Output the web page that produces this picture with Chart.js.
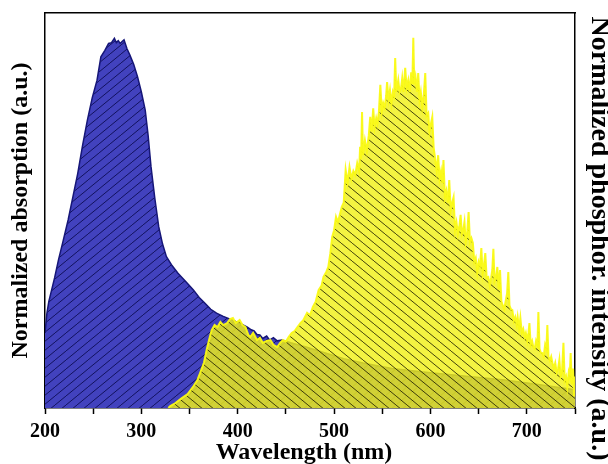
<!DOCTYPE html>
<html>
<head>
<meta charset="utf-8">
<script src="https://cdn.jsdelivr.net/npm/chart.js@4.4.1/dist/chart.umd.min.js"></script>
<style>
  html, body { margin: 0; padding: 0; background: #ffffff; }
  canvas { display: block; }
</style>
</head>
<body>
<canvas id="chart" width="608" height="464"></canvas>
<script>
// absorption spectrum (blue), normalised to plot height
const absWavelengths = [200, 202, 204, 210, 214, 219, 224, 229, 234, 239, 244, 249, 254, 258, 262, 266, 269, 272, 274, 276, 278, 280, 282, 285, 288, 292, 296, 300, 304, 307, 310, 314, 318, 322, 326, 332, 338, 346, 354, 360, 366, 372, 378, 385, 394, 402, 410, 414, 417, 420, 423, 426, 430, 433, 437, 441, 446, 455, 470, 490, 510, 530, 560, 600, 640, 677, 710, 750];
const absValues = [0.19, 0.24, 0.27, 0.33, 0.375, 0.425, 0.476, 0.535, 0.594, 0.665, 0.729, 0.785, 0.83, 0.889, 0.905, 0.923, 0.925, 0.936, 0.925, 0.93, 0.923, 0.928, 0.932, 0.91, 0.894, 0.87, 0.839, 0.8, 0.754, 0.69, 0.611, 0.53, 0.459, 0.415, 0.383, 0.36, 0.341, 0.32, 0.299, 0.28, 0.265, 0.25, 0.24, 0.232, 0.223, 0.215, 0.205, 0.198, 0.195, 0.186, 0.185, 0.176, 0.182, 0.172, 0.178, 0.17, 0.172, 0.165, 0.155, 0.14, 0.125, 0.114, 0.1, 0.089, 0.08, 0.071, 0.06, 0.046];

// phosphorescence spectrum (yellow), noisy
const emWavelengths = [
  328, 330, 335, 342, 348, 354, 358, 362, 365, 368, 371, 373, 376, 379, 382, 385, 389, 392, 395, 398,
  402, 405, 408, 411, 413, 416, 420, 423, 426, 430, 434, 437, 441, 444, 447, 450, 453, 456, 459, 462,
  465, 468, 472, 475, 478, 481, 484, 487, 489, 492, 494, 496, 498, 500, 502, 504, 506, 508, 510, 512,
  514, 516, 518, 520, 522, 524, 526, 527, 528, 529, 530, 532, 534, 536, 537.5, 539, 540.6, 542, 543.7, 545,
  546.5, 548, 549.5, 551, 552.5, 554, 555, 556.5, 558, 559.5, 561, 562.3, 563.4, 564.6, 566.6, 568, 569.5, 570.7, 572, 573.8,
  575.3, 577, 578.5, 580, 581.2, 582.2, 583.2, 584.5, 586, 587.3, 588.7, 590, 591.5, 593, 594.6, 596, 597.7, 599, 600.5, 601.9,
  603.3, 605, 606.5, 608, 609.5, 611, 612.3, 613.5, 615, 616.5, 618, 619.5, 621, 622.5, 624, 625.5, 627, 628.5, 630, 631.3,
  632.6, 634, 635.3, 636.6, 638, 639.6, 641, 642.5, 644, 645.5, 647, 648.6, 650, 651.4, 652.8, 654.2, 655.5, 656.9, 658.3, 660,
  661.5, 663, 664.2, 665.3, 666.5, 668, 669.4, 670.8, 672.2, 673.6, 675, 676.5, 678, 679.5, 680.8, 682, 683.5, 685, 686.5, 688,
  689.5, 690.5, 692, 693.3, 694.8, 696.3, 697.8, 699, 700.5, 701.7, 702.7, 704, 705.5, 706.8, 708.2, 709.6, 711, 712, 713.2, 714.6,
  716, 717.5, 719, 720.3, 721.3, 722.5, 724, 725.3, 726.6, 728, 729.5, 731, 732.5, 733.8, 735, 736.5, 738, 739.3, 740.7, 742,
  743.5, 744.5, 745.5, 746.7, 748, 749, 750,
];
const emValues = [
  0, 0.005, 0.012, 0.025, 0.035, 0.055, 0.07, 0.095, 0.115, 0.15, 0.18, 0.197, 0.21, 0.205, 0.218, 0.21, 0.215, 0.225, 0.228, 0.215,
  0.223, 0.21, 0.205, 0.185, 0.18, 0.19, 0.172, 0.178, 0.165, 0.17, 0.172, 0.16, 0.154, 0.165, 0.172, 0.168, 0.18, 0.19, 0.195, 0.205,
  0.215, 0.222, 0.241, 0.235, 0.256, 0.27, 0.299, 0.31, 0.332, 0.345, 0.357, 0.39, 0.433, 0.45, 0.484, 0.47, 0.49, 0.509, 0.52, 0.603,
  0.57, 0.61, 0.58, 0.6, 0.59, 0.62, 0.6, 0.661, 0.63, 0.749, 0.64, 0.678, 0.65, 0.69, 0.737, 0.7, 0.759, 0.71, 0.734, 0.72,
  0.75, 0.818, 0.75, 0.772, 0.76, 0.79, 0.825, 0.78, 0.805, 0.77, 0.8, 0.79, 0.886, 0.8, 0.83, 0.8, 0.81, 0.835, 0.8, 0.861,
  0.81, 0.83, 0.8, 0.85, 0.82, 0.937, 0.82, 0.838, 0.8, 0.848, 0.78, 0.8, 0.762, 0.79, 0.848, 0.74, 0.747, 0.7, 0.72, 0.737,
  0.66, 0.628, 0.6, 0.64, 0.58, 0.6, 0.57, 0.628, 0.534, 0.55, 0.52, 0.577, 0.5, 0.52, 0.534, 0.45, 0.47, 0.44, 0.46, 0.489,
  0.44, 0.45, 0.471, 0.42, 0.44, 0.496, 0.42, 0.43, 0.418, 0.37, 0.38, 0.342, 0.37, 0.36, 0.405, 0.34, 0.36, 0.392, 0.33, 0.332,
  0.31, 0.33, 0.35, 0.403, 0.32, 0.33, 0.357, 0.3, 0.349, 0.27, 0.26, 0.25, 0.27, 0.29, 0.344, 0.26, 0.25, 0.248, 0.22, 0.23,
  0.21, 0.23, 0.2, 0.228, 0.19, 0.2, 0.18, 0.19, 0.17, 0.19, 0.215, 0.16, 0.17, 0.154, 0.15, 0.17, 0.16, 0.243, 0.15, 0.14,
  0.139, 0.13, 0.16, 0.15, 0.21, 0.13, 0.12, 0.13, 0.114, 0.1, 0.114, 0.09, 0.1, 0.122, 0.08, 0.09, 0.165, 0.07, 0.08, 0.053,
  0.09, 0.08, 0.139, 0.06, 0.1, 0.03, 0.08,
];

const serif = "'Liberation Serif', 'Times New Roman', serif";

// diagonal hatch tile used as a fill pattern
function hatch(fill, line, dir) {
  const w = 11, h = 9;
  const c = document.createElement("canvas");
  c.width = w;
  c.height = h;
  const g = c.getContext("2d");
  g.fillStyle = fill;
  g.fillRect(0, 0, w, h);
  g.strokeStyle = line;
  g.lineWidth = 1;
  g.beginPath();
  for (const dx of [-w, 0, w]) {
    if (dir === "/") {
      g.moveTo(dx, h);
      g.lineTo(dx + w, 0);
    } else {
      g.moveTo(dx, 0);
      g.lineTo(dx + w, h);
    }
  }
  g.stroke();
  return g.createPattern(c, "repeat");
}

const ctx = document.getElementById("chart").getContext("2d");
const bluePattern = hatch("rgb(66,66,190)", "rgb(18,18,95)", "/");
const yellowPattern = hatch("rgba(240,240,25,0.82)", "rgba(35,35,0,0.85)", "\\");

const toPoints = (xs, ys) => xs.map((x, i) => ({ x, y: ys[i] }));

const frameOnly = {
  ticks: { display: false },
  grid: { display: false, drawTicks: false },
  border: { display: true, color: "#000", width: 1.5 },
};

new Chart(ctx, {
  type: "line",
  data: {
    datasets: [
      {
        label: "Phosphorescence",
        data: toPoints(emWavelengths, emValues),
        borderColor: "rgba(250,250,20,0.95)",
        borderWidth: 2,
        backgroundColor: yellowPattern,
        fill: "origin",
        order: 0,
      },
      {
        label: "Absorption",
        data: toPoints(absWavelengths, absValues),
        borderColor: "rgb(22,22,120)",
        borderWidth: 1.5,
        backgroundColor: bluePattern,
        fill: "origin",
        order: 1,
      },
    ],
  },
  options: {
    responsive: false,
    animation: false,
    devicePixelRatio: 1,
    layout: { padding: { top: 13 } },
    plugins: { legend: { display: false }, tooltip: { enabled: false } },
    elements: { point: { radius: 0 }, line: { tension: 0 } },
    scales: {
      x: {
        type: "linear",
        position: "bottom",
        min: 200,
        max: 750,
        afterFit: (scale) => {
          scale.height = 56;
        },
        ticks: {
          stepSize: 50,
          autoSkip: false,
          maxRotation: 0,
          padding: 6,
          color: "#000",
          font: { family: serif, size: 20, weight: "bold" },
          callback: (v) => (v % 100 === 0 ? String(v) : ""),
        },
        grid: { display: true, drawOnChartArea: false, drawTicks: true, tickLength: 6, tickWidth: 1.5, color: "#000" },
        border: { display: true, color: "#000", width: 1.5 },
        title: {
          display: true,
          // trailing spaces nudge the label slightly left of centre, as in the source figure
          text: "Wavelength (nm)  ",
          color: "#000",
          font: { family: serif, size: 24, weight: "bold", lineHeight: 1 },
          padding: { top: 0, bottom: -1 },
        },
      },
      x2: { type: "linear", position: "top", min: 200, max: 750, ...frameOnly },
      y: {
        position: "left",
        min: 0,
        max: 1,
        ...frameOnly,
        title: {
          display: true,
          text: "Normalized absorption (a.u.)",
          color: "#000",
          font: { family: serif, size: 24, weight: "bold", lineHeight: 1 },
          padding: { top: 9, bottom: 12 },
        },
      },
      y2: {
        position: "right",
        min: 0,
        max: 1,
        ...frameOnly,
        title: {
          display: true,
          // leading spaces push the label a little down the axis, as in the source figure
          text: "        Normalized phosphor. intensity (a.u.)",
          color: "#000",
          font: { family: serif, size: 28, weight: "bold", lineHeight: 1 },
          padding: { top: -5, bottom: 10 },
        },
      },
    },
  },
});
</script>
</body>
</html>
